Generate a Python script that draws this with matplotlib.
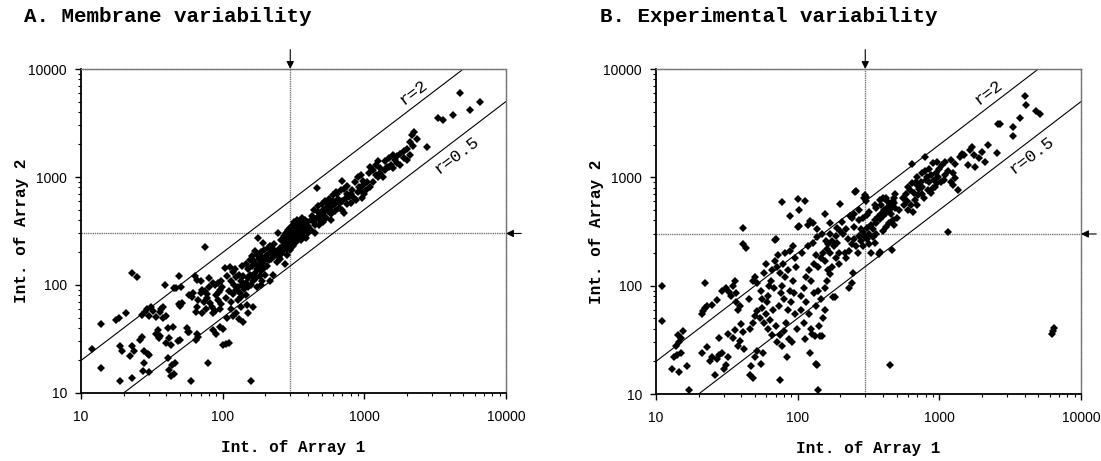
import matplotlib
matplotlib.use("Agg")
import matplotlib.pyplot as plt
from matplotlib.ticker import LogLocator, NullFormatter, FixedLocator, FixedFormatter

# ---------------- data ----------------
titles = ["A. Membrane variability", "B. Experimental variability"]
x_label = "Int. of Array 1"
y_label = "Int. of Array 2"
tick_values = [10, 100, 1000, 10000]
tick_labels = ["10", "100", "1000", "10000"]
threshold = 300
ratio_lines = [2.0, 0.5]
ratio_texts = ["r=2", "r=0.5"]

# Panel A : membrane variability
memb_low = [(13.8, 43.5), (11.9, 25.4), (13.8, 17), (17.7, 47), (18.6, 50), (20.8, 55), (19, 12.8), (23, 13.8),
            (22.8, 130), (25, 119), (19, 27), (23, 27.5), (19.5, 24.5), (23.5, 24.5), (22, 22), (26, 31), (27, 33),
            (28, 24.5), (29.5, 23), (30, 22.5), (28, 19), (27.5, 16), (30, 15.5), (27, 53), (28.5, 56), (30, 52),
            (29, 60), (31, 63), (32, 58), (34, 51), (36, 56), (38, 62), (39, 99), (37, 60), (34, 35), (35, 38),
            (35.5, 32), (36, 34), (41, 40), (42, 32), (40, 29), (43, 28), (41, 21), (42, 16.5), (44, 18), (46, 19),
            (45, 15), (43, 14.5), (49, 122), (45, 93), (47, 94), (51, 96), (49, 66), (52, 68), (50, 64), (48, 30),
            (50, 31), (44.6, 41), (38, 50), (40, 52)]
memb_mid = [(56, 40), (58, 37), (57, 36.5), (60, 12.8), (64, 120), (66, 112), (58, 81), (61, 78), (62, 84),
            (65, 31), (66, 35), (67, 33), (65, 56), (66, 63), (67, 72), (70, 85), (72, 90), (75, 88), (74, 70),
            (78, 75), (80, 95), (82, 68), (84, 62), (79, 18.8), (75, 223), (86, 55), (88, 57), (90, 80), (92, 72),
            (95, 90), (96, 60), (98, 66), (85, 38), (90, 35), (95, 41), (100, 28), (105, 28.5), (110, 29), (100, 39),
            (72, 55), (76, 60), (88, 100), (92, 105), (70, 110), (80, 115), (85, 105), (97, 110), (99, 95), (94, 86),
            (78, 83)]
memb_100 = [(104, 143), (112, 148), (122, 140), (118, 131), (108, 120), (115, 110), (125, 118), (130, 125),
            (135, 110), (140, 120), (120, 100), (128, 95), (138, 100), (145, 105), (150, 115), (155, 125), (160, 120),
            (165, 110), (110, 88), (118, 82), (125, 90), (132, 85), (142, 92), (150, 95), (158, 100), (105, 75),
            (115, 70), (128, 72), (135, 78), (145, 80), (115, 60), (125, 55), (135, 62), (148, 65), (163, 63),
            (108, 50), (118, 52), (130, 48), (140, 45), (150, 55), (158, 12.8), (170, 130), (175, 140), (180, 150),
            (185, 135), (190, 160), (195, 145), (178, 270), (194, 243), (172, 115), (168, 160), (160, 150),
            (150, 140), (145, 155), (138, 150), (182, 120), (188, 110), (198, 125), (176, 95), (185, 100), (160, 185),
            (175, 190), (185, 200), (195, 210), (165, 170), (200, 170), (190, 180), (155, 170), (170, 205), (180, 175)]
memb_200 = [(205, 190), (210, 220), (215, 230), (220, 200), (225, 215), (230, 240), (235, 190), (240, 163),
            (245, 300), (250, 210), (215, 110), (225, 125), (205, 150), (212, 170), (220, 175), (230, 185), (240, 200),
            (248, 180), (255, 175), (260, 195), (265, 230), (270, 250), (275, 260), (280, 240), (285, 215), (290, 270),
            (295, 290), (300, 260), (305, 310), (310, 280), (260, 260), (270, 285), (280, 300), (290, 320), (300, 340),
            (310, 350), (320, 300), (330, 330), (340, 360), (350, 310), (274, 158), (285, 190), (300, 210), (315, 230),
            (330, 250), (345, 270), (360, 290), (375, 280), (390, 320), (400, 350), (320, 380), (335, 400), (350, 390),
            (365, 420), (380, 400), (395, 380), (360, 340), (370, 360), (385, 350), (398, 300), (255, 220), (265, 205),
            (275, 225), (295, 240), (305, 255), (325, 270), (340, 290), (355, 260), (372, 310), (388, 270)]
memb_400 = [(410, 330), (420, 400), (430, 440), (440, 380), (450, 360), (460, 786), (460, 420), (470, 470),
            (480, 440), (490, 400), (500, 450), (510, 500), (520, 470), (530, 430), (540, 520), (550, 480), (560, 560),
            (570, 500), (580, 450), (590, 540), (600, 600), (620, 560), (636, 731), (650, 620), (670, 580), (690, 918),
            (700, 500), (720, 460), (740, 640), (750, 700), (420, 320), (450, 300), (480, 360), (510, 380), (540, 420),
            (580, 400), (620, 480), (660, 520), (700, 600), (760, 560), (780, 650), (800, 700), (820, 760), (850, 640),
            (880, 610), (900, 720), (920, 800), (950, 760), (980, 850), (1000, 700), (860, 900), (900, 1000),
            (940, 1050), (980, 920), (1050, 900), (1080, 1100), (1100, 800), (1020, 760), (960, 640), (800, 580),
            (440, 500), (470, 540), (500, 560), (530, 600), (560, 620), (600, 680), (640, 700), (680, 760), (720, 780),
            (760, 820)]
memb_high = [(1150, 1150), (1200, 1300), (1250, 1000), (1300, 1200), (1350, 1000), (1400, 1400), (1450, 1250),
             (1500, 1500), (1550, 1300), (1600, 1600), (1650, 1450), (1700, 1550), (1150, 900), (1200, 1050),
             (1300, 1100), (1400, 1150), (1500, 1250), (1700, 1350), (1800, 1650), (1900, 1500), (2000, 1800),
             (2100, 1600), (2160, 2450), (2250, 2600), (2350, 2250), (2200, 1950), (2000, 1450), (1800, 1300),
             (2750, 1900), (3320, 3490), (3600, 3370), (4240, 3750), (4730, 5960), (5560, 4170), (6550, 4980),
             (1100, 1250), (1250, 1400), (1600, 1200), (1900, 1750), (2100, 2100)]

# Panel B : experimental variability
exp_low = [(11.1, 100), (11.1, 47), (13.5, 22), (13, 17), (14.5, 16), (14, 23), (16.5, 18), (15, 24), (17, 10.9),
           (14.5, 30), (15, 33), (14.2, 35), (15.5, 38), (13.8, 28), (22.2, 105), (21, 55), (21.5, 58), (22, 62),
           (23, 65), (25, 67), (27, 73), (21, 24), (23, 27), (24, 20), (25, 22), (27, 21), (28, 23), (26, 15),
           (30, 17), (29, 24), (28, 33), (31, 18.5), (32, 22), (29, 90), (31, 95), (33, 88), (35, 100), (36, 110),
           (34, 80), (37, 85), (32, 36), (35, 33), (36, 39), (38, 28), (39, 31), (40, 44), (41, 37), (42, 26),
           (41, 342), (41, 240), (43, 225), (38, 60), (39, 65), (37, 70)]
exp_mid = [(46, 15), (48, 14), (47, 18), (50, 22), (52, 25), (55, 19), (57, 24), (46, 40), (48, 45), (50, 52),
           (52, 58), (54, 50), (56, 62), (58, 45), (60, 55), (62, 40), (64, 48), (66, 35), (67, 60), (45, 75),
           (48, 110), (50, 120), (52, 105), (55, 90), (58, 130), (60, 160), (62, 80), (65, 110), (68, 95), (70, 270),
           (69, 265), (72, 150), (75, 13.5), (75, 130), (77, 590), (78, 100), (80, 75), (82, 120), (84, 22), (85, 60),
           (86, 140), (88, 435), (88, 90), (90, 70), (92, 110), (94, 85), (95, 180), (96, 55), (98, 150), (99, 40),
           (72, 30), (75, 35), (78, 28), (80, 38), (70, 42), (74, 65), (76, 85), (83, 45), (87, 32), (91, 30),
           (56, 75), (61, 70), (63, 100), (66, 140), (69, 170), (73, 190), (79, 160), (81, 200), (89, 210), (93, 230)]
exp_100 = [(101, 635), (112, 600), (102, 495), (101, 345), (102, 352), (118, 365), (123, 395), (128, 375),
           (136, 330), (122, 24), (135, 19), (137, 18.5), (139, 10.9), (133, 34), (144, 34), (150, 50), (148, 34),
           (155, 460), (160, 110), (170, 128), (169, 375), (178, 79), (183, 78), (198, 570), (105, 80), (110, 95),
           (115, 120), (120, 140), (125, 110), (130, 160), (135, 190), (140, 150), (145, 180), (150, 200), (155, 170),
           (160, 220), (165, 240), (170, 200), (175, 260), (180, 230), (185, 290), (190, 250), (195, 200), (105, 60),
           (110, 45), (115, 70), (120, 55), (125, 40), (130, 85), (135, 65), (140, 90), (145, 75), (155, 95),
           (165, 140), (175, 150), (185, 180), (195, 160), (108, 200), (118, 230), (128, 250), (138, 280), (148, 300),
           (158, 260), (168, 300), (188, 340), (198, 320), (112, 32), (127, 36), (142, 42), (157, 60)]
exp_200 = [(205, 390), (235, 440), (240, 420), (255, 730), (260, 745), (295, 650), (300, 690), (305, 610),
           (305, 660), (247, 131), (240, 106), (231, 95), (220, 180), (230, 210), (240, 240), (250, 270), (260, 230),
           (270, 290), (280, 260), (290, 310), (300, 280), (310, 340), (320, 300), (330, 360), (340, 330), (350, 400),
           (360, 380), (370, 430), (380, 410), (390, 460), (400, 440), (410, 500), (420, 470), (430, 520), (440, 490),
           (450, 560), (460, 530), (470, 600), (480, 580), (490, 520), (210, 300), (220, 330), (250, 350), (270, 400),
           (280, 330), (290, 420), (310, 270), (320, 240), (340, 280), (360, 300), (377, 194), (460, 215), (380, 205),
           (420, 350), (470, 400), (480, 360), (500, 420), (350, 250), (400, 320), (440, 380), (380, 620), (400, 640),
           (420, 650), (350, 550), (320, 480), (270, 500), (250, 460), (225, 270), (215, 200), (448, 18.6),
           (330, 200), (290, 230), (265, 200), (360, 520), (390, 560), (430, 600), (455, 460), (490, 700), (480, 650),
           (310, 450)]
exp_500 = [(550, 650), (580, 700), (600, 820), (620, 760), (640, 880), (637, 1320), (660, 720), (680, 900),
           (700, 850), (720, 780), (740, 900), (760, 820), (790, 1550), (790, 1135), (800, 950), (820, 1000),
           (850, 900), (880, 1050), (900, 800), (920, 950), (950, 1100), (980, 1000), (1000, 1200), (1050, 1300),
           (1100, 1050), (1150, 310), (1150, 1150), (1200, 900), (1250, 1100), (1300, 1320), (1350, 760), (1300, 980),
           (1250, 850), (1400, 1550), (1450, 1650), (1500, 1600), (520, 500), (560, 560), (590, 600), (630, 560),
           (670, 620), (710, 680), (750, 700), (780, 640), (830, 760), (870, 720), (930, 820), (970, 880),
           (1020, 900), (1080, 950), (700, 1000), (760, 1100), (840, 1200), (900, 1350), (960, 1400), (1100, 1400),
           (1200, 1450), (600, 500), (650, 480), (700, 560)]
exp_high = [(1700, 1900), (1800, 1250), (1900, 1500), (2000, 1700), (2100, 1400), (1750, 1600), (2540, 1680),
            (2680, 3090), (2600, 3090), (3300, 2945), (3300, 2410), (3700, 3560), (4020, 5660), (4080, 4690),
            (4850, 4100), (5100, 3850), (6200, 36), (6300, 38), (6400, 41), (2200, 2000), (1600, 1300), (1650, 1800)]

panels = [
    memb_low + memb_mid + memb_100 + memb_200 + memb_400 + memb_high,
    exp_low + exp_mid + exp_100 + exp_200 + exp_500 + exp_high,
]

# ---------------- figure ----------------
plt.rcParams['font.family'] = ['Liberation Sans', 'DejaVu Sans']
fig = plt.figure(figsize=(11.01, 4.61), dpi=100)
mono = ['Liberation Mono', 'DejaVu Sans Mono']

ax_rects = [[81 / 1101, 1 - 393 / 461, 425 / 1101, 324 / 461],
            [656 / 1101, 1 - 394 / 461, 425 / 1101, 325 / 461]]
title_x = [24 / 1101, 600 / 1101]

for i, pts in enumerate(panels):
    ax = fig.add_axes(ax_rects[i])
    ax.set_xscale('log')
    ax.set_yscale('log')
    ax.set_xlim(10, 10000)
    ax.set_ylim(10, 10000)

    xs = [p[0] for p in pts]
    ys = [p[1] for p in pts]
    ax.plot(xs, ys, linestyle='none', marker='D', markersize=4.3,
            color='black', markeredgewidth=0, zorder=3)

    # ratio lines
    line_x = [1, 100000]
    for r in ratio_lines:
        ax.plot(line_x, [v * r for v in line_x], color='black', lw=0.8, zorder=2)

    # threshold lines
    ax.axvline(threshold, color='#777777', lw=1.0, ls=(0, (1, 0.6)), zorder=1)
    ax.axhline(threshold, color='#777777', lw=1.0, ls=(0, (1, 0.6)), zorder=1)

    # arrows outside the frame
    ax.annotate('', xy=(threshold, 10000), xycoords='data',
                xytext=(0, 14), textcoords='offset points',
                arrowprops=dict(arrowstyle='-|>', color='black', lw=0.8,
                                mutation_scale=11, shrinkA=0, shrinkB=0),
                annotation_clip=False)
    ax.annotate('', xy=(10000, threshold), xycoords='data',
                xytext=(11, 0), textcoords='offset points',
                arrowprops=dict(arrowstyle='-|>', color='black', lw=0.8,
                                mutation_scale=11, shrinkA=0, shrinkB=0),
                annotation_clip=False)

    # ratio labels
    ax.text(2240, 6100, ratio_texts[0], rotation=37, ha='center', va='center',
            family=mono, fontsize=12.5, zorder=4)
    ax.text(4530, 1600, ratio_texts[1], rotation=37, ha='center', va='center',
            family=mono, fontsize=12.5, zorder=4)

    # spines
    for s in ['left', 'bottom']:
        ax.spines[s].set_linewidth(1.3)
        ax.spines[s].set_color('black')
    for s in ['top', 'right']:
        ax.spines[s].set_linewidth(1.0)
        ax.spines[s].set_color('#777777')
        ax.spines[s].set_linestyle((0, (1, 0.6)))

    ax.xaxis.set_major_locator(FixedLocator(tick_values))
    ax.xaxis.set_major_formatter(FixedFormatter(tick_labels))
    ax.yaxis.set_major_locator(FixedLocator(tick_values))
    ax.yaxis.set_major_formatter(FixedFormatter(tick_labels))
    ax.xaxis.set_minor_locator(LogLocator(base=10, subs=range(2, 10)))
    ax.yaxis.set_minor_locator(LogLocator(base=10, subs=range(2, 10)))
    ax.xaxis.set_minor_formatter(NullFormatter())
    ax.yaxis.set_minor_formatter(NullFormatter())
    ax.tick_params(which='major', direction='out', length=4, width=1, labelsize=10)
    ax.tick_params(axis='y', which='major', pad=6)
    ax.tick_params(axis='x', which='major', pad=8)
    ax.tick_params(which='minor', direction='out', length=2.5, width=0.8)
    ax.tick_params(top=False, right=False, which='both')

    ax.set_xlabel(x_label, family=mono, fontweight='bold', fontsize=11.5)
    ax.xaxis.set_label_coords(0.5, -47 / 324)
    ax.set_ylabel(y_label, family=mono, fontweight='bold', fontsize=11.5)
    ax.yaxis.set_label_coords(-52 / 425, 0.5)

    fig.text(title_x[i], 1 - 22 / 461, titles[i], family=mono, fontweight='bold',
             fontsize=15, ha='left', va='baseline')

fig.savefig('out.png', dpi=100)
